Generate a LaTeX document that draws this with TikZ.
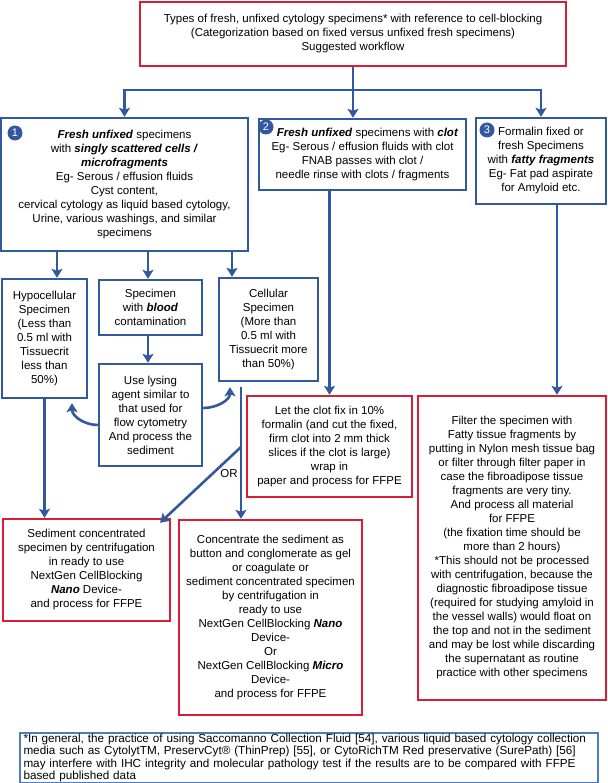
\documentclass[tikz,border=0pt]{standalone}
\usepackage{fontspec}
\setmainfont{Liberation Sans}
\usetikzlibrary{arrows.meta,positioning}
\definecolor{flowblue}{RGB}{50,88,160}
\definecolor{flowred}{RGB}{214,30,52}
\definecolor{noteblue}{RGB}{80,125,185}
\newcommand{\bi}[1]{\textbf{\textit{#1}}}

\begin{document}
\begin{tikzpicture}[x=1pt,y=-1pt,
  bluebox/.style={rectangle, draw=flowblue, line width=2.4pt, align=center,
    inner sep=2pt, font=\fontsize{11.5}{14}\selectfont},
  redbox/.style={bluebox, draw=flowred},
  flow/.style={-{Stealth[length=9pt,width=11pt,inset=2pt]}, draw=flowblue, line width=2.6pt},
  numdot/.style={circle, fill=flowblue, text=white, inner sep=0pt,
    minimum size=15pt, font=\fontsize{11}{11}\selectfont}]
  \useasboundingbox (0,0) rectangle (607,783);

  \node[redbox, minimum width=426pt, minimum height=64pt] (top) at (353,34)
  {Types of fresh, unfixed cytology specimens* with reference to cell-blocking\\
   (Categorization based on fixed versus unfixed fresh specimens)\\
   Suggested workflow};

  % three kinds of specimen
  \node[bluebox, minimum width=247pt, minimum height=133pt] (kind1) at (124.5,184.5)
  {\bi{Fresh unfixed} specimens\\
   with \bi{singly scattered cells /}\\
   \bi{microfragments}\\
   Eg- Serous / effusion fluids\\
   Cyst content,\\
   cervical cytology as liquid based cytology,\\
   Urine, various washings, and similar\\
   specimens};
  \node[bluebox, minimum width=207pt, minimum height=71pt] (kind2) at (362.5,154.5)
  {\hspace*{10pt}\bi{Fresh unfixed} specimens with \bi{clot}\\
   Eg- Serous / effusion fluids with clot\\
   FNAB passes with clot /\\
   needle rinse with clots / fragments};
  \node[bluebox, minimum width=130pt, minimum height=86pt] (kind3) at (541,161)
  {Formalin fixed or\\
   fresh Specimens\\
   with \bi{fatty fragments}\\
   Eg- Fat pad aspirate\\
   for Amyloid etc.};

  \node[numdot] (num1) at (15,133) {1};
  \node[numdot] (num2) at (266,127) {2};
  \node[numdot] (num3) at (487,130) {3};

  % first column
  \node[bluebox, minimum width=85pt, minimum height=119pt] (hypo) at (44.5,338.5)
  {Hypocellular\\Specimen\\(Less than\\0.5 ml with\\Tissuecrit\\less than\\50\%)};
  \node[bluebox, minimum width=103pt, minimum height=55pt] (blood) at (150.5,307.5)
  {Specimen\\with \bi{blood}\\contamination};
  \node[bluebox, minimum width=99pt, minimum height=103pt] (cell) at (268.5,329.5)
  {Cellular\\Specimen\\(More than\\0.5 ml with\\Tissuecrit more\\than 50\%)};
  \node[bluebox, minimum width=103pt, minimum height=102pt] (lyse) at (150.5,415)
  {Use lysing\\agent similar to\\that used for\\flow cytometry\\And process the\\sediment};

  % processing
  \node[redbox, minimum width=165pt, minimum height=101pt] (clot) at (329.5,446.5)
  {Let the clot fix in 10\%\\
   formalin (and cut the fixed,\\
   firm clot into 2 mm thick\\
   slices if the clot is large)\\
   wrap in\\
   paper and process for FFPE};
  \node[redbox, minimum width=188pt, minimum height=304pt] (filter) at (512,548)
  {Filter the specimen with\\
   Fatty tissue fragments by\\
   putting in Nylon mesh tissue bag\\
   or filter through filter paper in\\
   case the fibroadipose tissue\\
   fragments are very tiny.\\
   And process all material\\
   for FFPE\\
   (the fixation time should be\\
   more than 2 hours)\\
   *This should not be processed\\
   with centrifugation, because the\\
   diagnostic fibroadipose tissue\\
   (required for studying amyloid in\\
   the vessel walls) would float on\\
   the top and not in the sediment\\
   and may be lost while discarding\\
   the supernatant as routine\\
   practice with other specimens};
  \node[redbox, minimum width=167pt, minimum height=102pt] (sed) at (86.5,570)
  {Sediment concentrated\\
   specimen by centrifugation\\
   in ready to use\\
   NextGen CellBlocking\\
   \bi{Nano} Device-\\
   and process for FFPE};
  \node[redbox, minimum width=183pt, minimum height=195pt] (conc) at (270.5,617.5)
  {Concentrate the sediment as\\
   button and conglomerate as gel\\
   or coagulate or\\
   sediment concentrated specimen\\
   by centrifugation in\\
   ready to use\\
   NextGen CellBlocking \bi{Nano}\\
   Device-\\
   Or\\
   NextGen CellBlocking \bi{Micro}\\
   Device-\\
   and process for FFPE};

  \node[draw=noteblue, line width=1.8pt, minimum width=578pt, minimum height=50pt,
    text width=571pt, align=left, inner xsep=3.5pt, inner ysep=1pt,
    font=\fontsize{11.7}{12.3}\selectfont] (note) at (309,758)
  {*In general, the practice of using Saccomanno Collection Fluid [54], various liquid based cytology collection\\
   media such as CytolytTM, PreservCyt\textregistered{} (ThinPrep) [55], or CytoRichTM Red preservative (SurePath) [56]\\
   may interfere with IHC integrity and molecular pathology test if the results are to be compared with FFPE\\
   based published data};

  \node[font=\fontsize{11.5}{12}\selectfont] (orlabel) at (229,474) {OR};

  % connectors
  \coordinate (split) at (353,90);
  \draw[flow] (top.south) -- (top.south |- kind2.north);
  \draw[flow] (split) -| (kind1.north);
  \draw[flow] (split) -| (kind3.north);

  \draw[flow] ([xshift=12.5pt]hypo.north |- kind1.south) -- ([xshift=12.5pt]hypo.north);
  \draw[flow] ([xshift=-2.5pt]blood.north |- kind1.south) -- ([xshift=-2.5pt]blood.north);
  \draw[flow] ([xshift=-36.5pt]cell.north |- kind1.south) -- ([xshift=-36.5pt]cell.north);
  \draw[flow] ([xshift=-2.5pt]blood.south) -- ([xshift=-2.5pt]lyse.north);

  \draw[flow] ([yshift=-10pt]lyse.west) to[out=180,in=-90] ([xshift=27.5pt,yshift=-4pt]hypo.south);
  \draw[flow] ([yshift=7pt]lyse.east) to[out=0,in=-90] ([xshift=-38.5pt,yshift=-5pt]cell.south);

  \coordinate (cellout) at ([xshift=-27.5pt,yshift=-5pt]cell.south);
  \coordinate (orfork) at (cellout |- 0,447);
  \draw[flow] (cellout) -- (cellout |- conc.north);
  \draw[flow] (orfork) -- ([xshift=73.5pt,yshift=-5pt]sed.north);

  \draw[flow] (clot.north |- kind2.south) -- (clot.north);
  \draw[flow] ([xshift=16pt]kind3.south) -- ([xshift=16pt]kind3.south |- filter.north);
  \draw[flow] (hypo.south) -- (hypo.south |- sed.north);
\end{tikzpicture}
\end{document}
